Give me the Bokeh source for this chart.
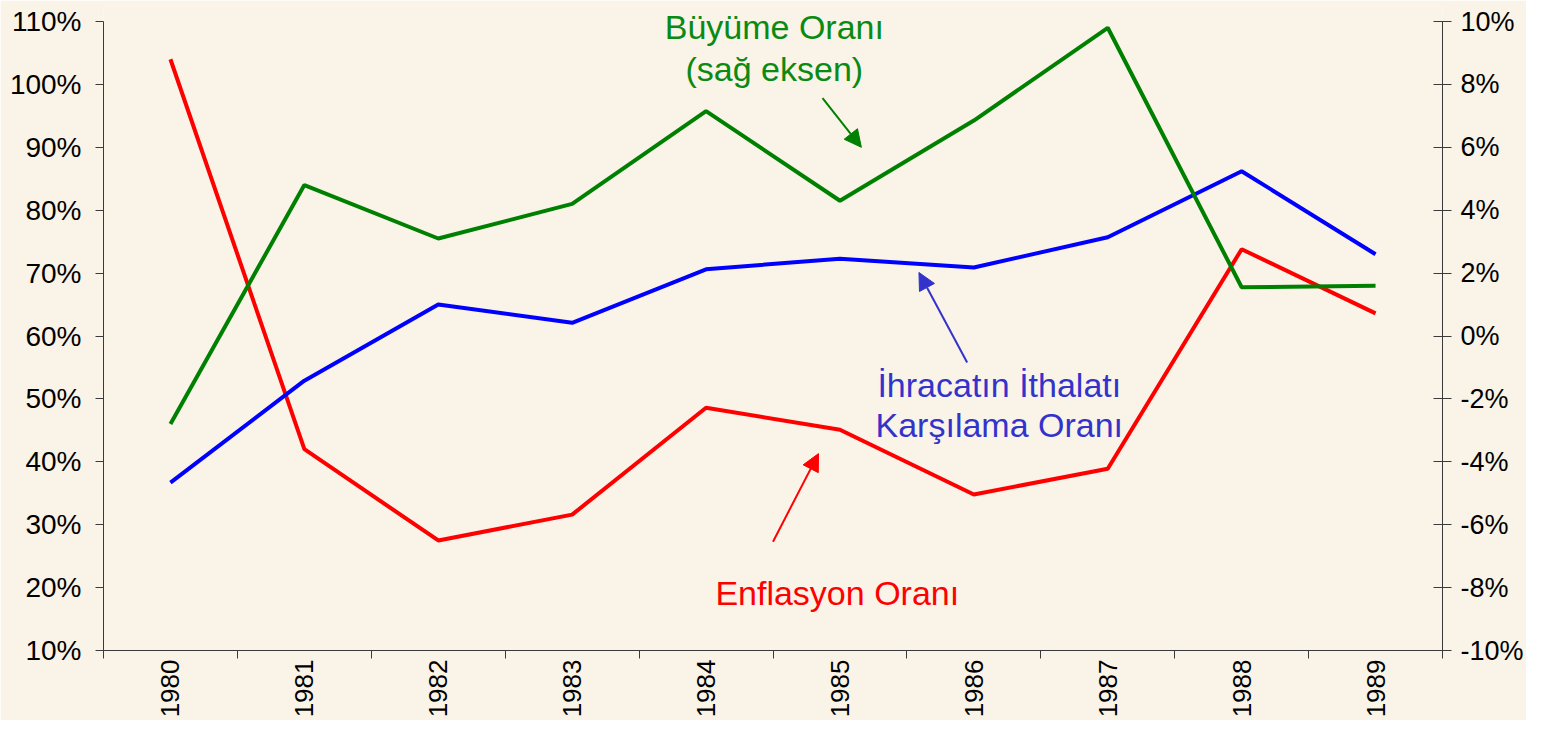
from bokeh.plotting import figure
from bokeh.models import (Range1d, LinearAxis, FixedTicker, PrintfTickFormatter,
                          Arrow, NormalHead, Label)
from bokeh.embed import file_html
from bokeh.resources import INLINE
import math

# ---- data ----
years = ["1980", "1981", "1982", "1983", "1984", "1985", "1986", "1987", "1988", "1989"]
enflasyon = [104.0, 42.0, 27.5, 31.6, 48.6, 45.1, 34.8, 38.9, 73.8, 63.6]        # left axis, %
ihracat_ithalat = [36.7, 52.9, 65.0, 62.1, 70.6, 72.3, 70.9, 75.7, 86.2, 73.0]   # left axis, %
buyume = [-2.8, 4.8, 3.1, 4.2, 7.15, 4.3, 6.85, 9.8, 1.55, 1.6]                  # right axis, %
left_ticks = [10, 20, 30, 40, 50, 60, 70, 80, 90, 100, 110]
right_ticks = [-10, -8, -6, -4, -2, 0, 2, 4, 6, 8, 10]

label_growth = ["Büyüme Oranı", "(sağ eksen)"]
label_cover = ["İhracatın İthalatı", "Karşılama Oranı"]
label_infl = ["Enflasyon Oranı"]

BG = "#F9F3E8"
FONT = "Liberation Sans"
AXIS_C = "#3a3a3a"

xs = [i + 0.5 for i in range(len(years))]

# frame extends 16px above the 110% / 10% tick so annotation text is not clipped;
# axis lines are bounded to the tick range.
L_MIN, L_MAX = left_ticks[0], left_ticks[-1]
R_MIN, R_MAX = right_ticks[0], right_ticks[-1]
AXIS_PX = 629.0
EXTRA_PX = 16.0
l_top = L_MAX + EXTRA_PX * (L_MAX - L_MIN) / AXIS_PX
r_top = R_MAX + EXTRA_PX * (R_MAX - R_MIN) / AXIS_PX

p = figure(width=1526, height=720, output_backend="svg", toolbar_location=None,
           x_range=Range1d(0, len(years)), y_range=Range1d(L_MIN, l_top),
           min_border_left=103, min_border_right=84, min_border_top=5, min_border_bottom=70)
p.background_fill_color = BG
p.border_fill_color = BG
p.outline_line_color = None
p.xgrid.visible = False
p.ygrid.visible = False

p.extra_y_ranges = {"right": Range1d(R_MIN, r_top)}

# x axis
xa = p.xaxis[0]
xa.ticker = FixedTicker(ticks=xs, minor_ticks=list(range(len(years) + 1)))
xa.major_label_overrides = {x: y for x, y in zip(xs, years)}
xa.major_label_orientation = math.pi / 2
xa.major_tick_out = 0
xa.major_tick_in = 0
xa.minor_tick_out = 8
xa.minor_tick_in = 0
xa.minor_tick_line_color = AXIS_C
xa.axis_line_color = AXIS_C
xa.major_label_standoff = 1
xa.major_label_text_font = FONT
xa.major_label_text_font_size = "26px"
xa.major_label_text_color = "black"

# left y axis
ya = p.yaxis[0]
ya.ticker = FixedTicker(ticks=left_ticks)
ya.formatter = PrintfTickFormatter(format="%d%%")
ya.bounds = (L_MIN, L_MAX)
ya.major_tick_out = 8
ya.major_tick_in = 0
ya.minor_tick_out = 0
ya.minor_tick_in = 0
ya.axis_line_color = AXIS_C
ya.major_tick_line_color = AXIS_C
ya.major_label_standoff = 14
ya.major_label_text_font = FONT
ya.major_label_text_font_size = "28px"
ya.major_label_text_color = "black"

# right y axis
ra = LinearAxis(y_range_name="right", ticker=FixedTicker(ticks=right_ticks),
                formatter=PrintfTickFormatter(format="%d%%"), bounds=(R_MIN, R_MAX))
ra.major_tick_out = 9
ra.major_tick_in = 9
ra.minor_tick_out = 0
ra.minor_tick_in = 0
ra.axis_line_color = AXIS_C
ra.major_tick_line_color = AXIS_C
ra.major_label_standoff = 9
ra.major_label_text_font = FONT
ra.major_label_text_font_size = "27px"
ra.major_label_text_color = "black"
p.add_layout(ra, "right")

# lines
p.line(xs, enflasyon, line_color="#FF0000", line_width=4)
p.line(xs, ihracat_ithalat, line_color="#0000FF", line_width=4)
p.line(xs, buyume, line_color="#008000", line_width=4, y_range_name="right")

# annotation texts
GREEN_T = "#0A8A12"
BLUE_T = "#3333CC"
RED_T = "#FF0000"

def labels(xv, yvals, texts, color):
    for yv, t in zip(yvals, texts):
        p.add_layout(Label(x=xv, y=yv, text=t, text_font=FONT, text_font_size="34px",
                           text_align="center", text_baseline="alphabetic",
                           text_color=color))

labels(5.01, [109.2, 102.4], label_growth, GREEN_T)
labels(6.69, [52.2, 45.8], label_cover, BLUE_T)
labels(5.48, [19.2], label_infl, RED_T)

# arrows
def arrow(x0, y0, x1, y1, c):
    p.add_layout(Arrow(end=NormalHead(size=17, fill_color=c, line_color=c, line_width=1),
                       x_start=x0, y_start=y0, x_end=x1, y_end=y1,
                       line_color=c, line_width=2))

arrow(5.37, 97.8, 5.66, 90.0, "#008000")
arrow(6.45, 55.8, 6.09, 70.1, BLUE_T)
arrow(5.00, 27.3, 5.34, 41.3, "#FF0000")

open("out.html", "w").write(file_html(p, INLINE))
